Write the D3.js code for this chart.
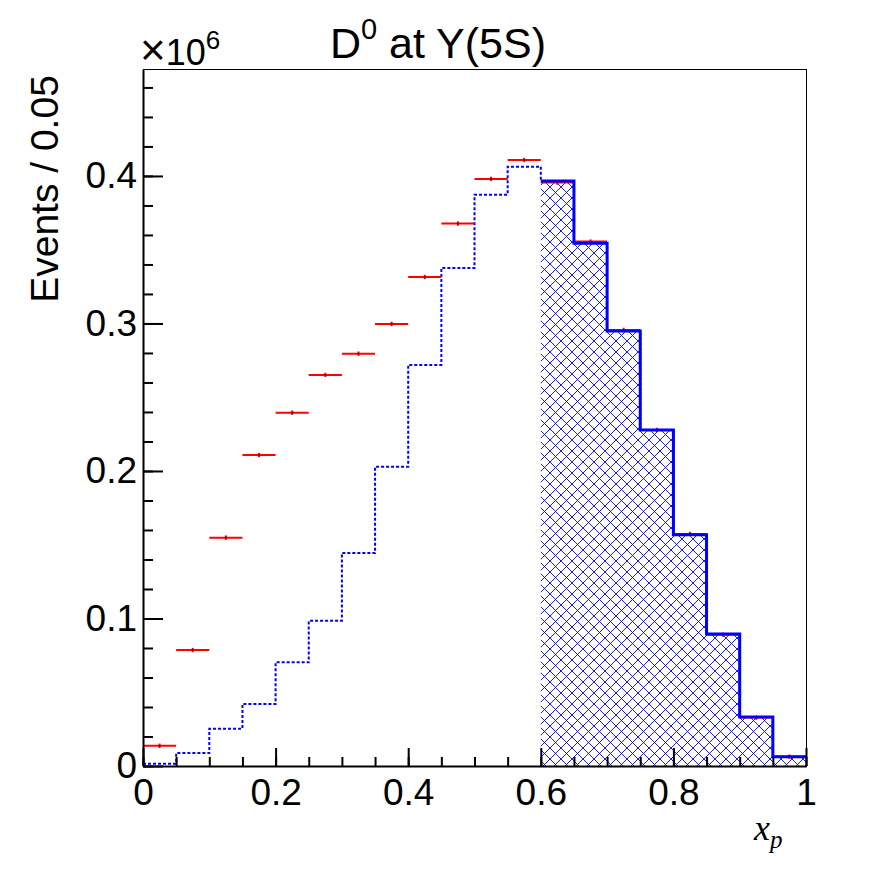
<!DOCTYPE html>
<html>
<head>
<meta charset="utf-8">
<script src="https://cdn.jsdelivr.net/npm/d3@7"></script>
<style>
  body { margin: 0; background: #fff; }
</style>
</head>
<body>
<svg id="chart" width="896" height="872" font-family="Liberation Sans, Arial, sans-serif"></svg>
<script>
// bins of x_p, width 0.05
const binLow = [0, 0.05, 0.1, 0.15, 0.2, 0.25, 0.3, 0.35, 0.4, 0.45,
                0.5, 0.55, 0.6, 0.65, 0.7, 0.75, 0.8, 0.85, 0.9, 0.95];
const binWidth = 0.05;

// data points (red), in units of 10^6
const dataValues = [0.0137, 0.0786, 0.1548, 0.2108, 0.2395, 0.2651, 0.2795, 0.2997, 0.3315, 0.3677,
                    0.3980, 0.4108, 0.3955, 0.3555, 0.2956, 0.2278, 0.1573, 0.0890, 0.0328, 0.0063];
const dataErrors = [0.0015, 0.0015, 0.0015, 0.0015, 0.0015, 0.0015, 0.0015, 0.0015, 0.0015, 0.0015,
                    0.0015, 0.0015, 0.0015, 0.0015, 0.0015, 0.0015, 0.0015, 0.0015, 0.0015, 0.0015];

// simulation (blue), in units of 10^6
const mcValues = [0.0016, 0.0088, 0.0253, 0.0420, 0.0703, 0.0985, 0.1444, 0.2029, 0.2719, 0.3376,
                  0.3873, 0.4063, 0.3966, 0.3544, 0.2949, 0.2278, 0.1568, 0.0894, 0.0333, 0.0063];

// bins from x_p = 0.6 up are drawn solid and hatched
const cutLow = 0.6;

const xMajor = [0, 0.2, 0.4, 0.6, 0.8, 1];
const yMajor = [0, 0.1, 0.2, 0.3, 0.4];

const padLeft = 143, padRight = 806, padTop = 69, padBottom = 766;

const svg = d3.select("#chart");

const x = d3.scaleLinear().domain([0, 1]).range([padLeft, padRight]);
const y = d3.scaleLinear().domain([0, 0.4725]).range([padBottom, padTop]);

const bins = binLow.map((lo, i) => ({
  lo: lo,
  hi: lo + binWidth,
  data: dataValues[i],
  err: dataErrors[i],
  mc: mcValues[i]
}));

// hatch pattern
const defs = svg.append("defs");
const pat = defs.append("pattern")
  .attr("id", "hatch")
  .attr("patternUnits", "userSpaceOnUse")
  .attr("width", 11)
  .attr("height", 11);
pat.append("path")
  .attr("d", "M0,0L11,11M0,11L11,0M-1,1L1,-1M10,12L12,10M-1,10L1,12M10,-1L12,1")
  .attr("stroke", "#0000ff")
  .attr("stroke-width", 0.9)
  .attr("fill", "none");

// step path helper
function stepPath(list, key) {
  let d = "";
  list.forEach((b, i) => {
    d += (i === 0 ? "M" : "L") + x(b.lo) + "," + y(b[key]);
    d += "L" + x(b.hi) + "," + y(b[key]);
  });
  return d;
}

const cutBins = bins.filter(b => b.lo >= cutLow - 1e-9);

// hatched area
const area = d3.area()
  .curve(d3.curveStepAfter)
  .x(d => x(d[0]))
  .y0(y(0))
  .y1(d => y(d[1]));
const areaPts = cutBins.map(b => [b.lo, b.mc]);
areaPts.push([1, cutBins[cutBins.length - 1].mc]);
svg.append("path")
  .attr("d", area(areaPts))
  .attr("fill", "url(#hatch)");

// dotted simulation
svg.append("path")
  .attr("d", stepPath(bins, "mc"))
  .attr("fill", "none")
  .attr("stroke", "#0000ff")
  .attr("stroke-width", 2)
  .attr("stroke-dasharray", "3,2");

// data points
const pts = svg.append("g");
bins.forEach(b => {
  pts.append("line")
    .attr("x1", x(b.lo)).attr("x2", x(b.hi))
    .attr("y1", y(b.data)).attr("y2", y(b.data))
    .attr("stroke", "#ff0000").attr("stroke-width", 2);
  pts.append("line")
    .attr("x1", x(b.lo + binWidth / 2)).attr("x2", x(b.lo + binWidth / 2))
    .attr("y1", y(b.data - b.err)).attr("y2", y(b.data + b.err))
    .attr("stroke", "#ff0000").attr("stroke-width", 2);
  pts.append("rect")
    .attr("x", x(b.lo + binWidth / 2) - 0.75).attr("y", y(b.data) - 0.75)
    .attr("width", 1.5).attr("height", 1.5)
    .attr("fill", "#400000");
});

// solid simulation above the cut
svg.append("path")
  .attr("d", stepPath(cutBins, "mc"))
  .attr("fill", "none")
  .attr("stroke", "#0000ff")
  .attr("stroke-width", 3);

// frame
svg.append("rect")
  .attr("x", padLeft).attr("y", padTop)
  .attr("width", padRight - padLeft).attr("height", padBottom - padTop)
  .attr("fill", "none")
  .attr("stroke", "#000")
  .attr("stroke-width", 1)
  .attr("shape-rendering", "crispEdges");

// y axis
const yMinor = svg.append("g")
  .attr("transform", `translate(${padLeft},0)`)
  .call(d3.axisLeft(y).ticks(25).tickSizeInner(-10).tickSizeOuter(0).tickFormat(""));
yMinor.select(".domain").remove();
yMinor.selectAll("line").attr("stroke-width", 2);

const yAxis = svg.append("g")
  .attr("transform", `translate(${padLeft},0)`)
  .call(d3.axisLeft(y).tickValues(yMajor).tickSizeInner(-20).tickSizeOuter(0)
    .tickPadding(6).tickFormat(d3.format("~g")));
yAxis.select(".domain").attr("stroke-width", 2);
yAxis.selectAll("line").attr("stroke-width", 2);
yAxis.selectAll("text")
  .attr("font-size", 37)
  .attr("font-family", "Liberation Sans, Arial, sans-serif")
  .attr("fill", "#000");

// x axis
const xMinor = svg.append("g")
  .attr("transform", `translate(0,${padBottom})`)
  .call(d3.axisBottom(x).ticks(20).tickSizeInner(-9).tickSizeOuter(0).tickFormat(""));
xMinor.select(".domain").remove();
xMinor.selectAll("line").attr("stroke-width", 2);

const xAxis = svg.append("g")
  .attr("transform", `translate(0,${padBottom})`)
  .call(d3.axisBottom(x).tickValues(xMajor).tickSizeInner(-18).tickSizeOuter(0)
    .tickPadding(13).tickFormat(d3.format("~g")));
xAxis.select(".domain").attr("stroke-width", 2);
xAxis.selectAll("line").attr("stroke-width", 2);
xAxis.selectAll("text")
  .attr("font-size", 37)
  .attr("font-family", "Liberation Sans, Arial, sans-serif")
  .attr("fill", "#000");

// y title
svg.append("text")
  .attr("transform", "translate(58,189) rotate(-90)")
  .attr("text-anchor", "middle")
  .attr("font-size", 39)
  .text("Events / 0.05");

// exponent
const expo = svg.append("text")
  .attr("x", padLeft - 3)
  .attr("y", 65)
  .attr("font-size", 36);
expo.append("tspan").attr("font-size", 44).text("\u00d7");
expo.append("tspan").text("10");
expo.append("tspan").attr("font-size", 26).attr("dy", -16).text("6");

// title
const title = svg.append("text")
  .attr("x", 438)
  .attr("y", 58)
  .attr("text-anchor", "middle")
  .attr("font-size", 43);
title.append("tspan").text("D");
title.append("tspan").attr("font-size", 29).attr("dy", -19).text("0");
title.append("tspan").attr("dy", 19).text(" at Y(5S)");

// x title
const xt = svg.append("text")
  .attr("x", 754)
  .attr("y", 840)
  .style("font-family", "'Liberation Serif', 'Times New Roman', serif")
  .style("font-style", "italic")
  .attr("font-size", 36);
xt.append("tspan").text("x");
xt.append("tspan").attr("font-size", 25).attr("dy", 8).text("p");
</script>
</body>
</html>
